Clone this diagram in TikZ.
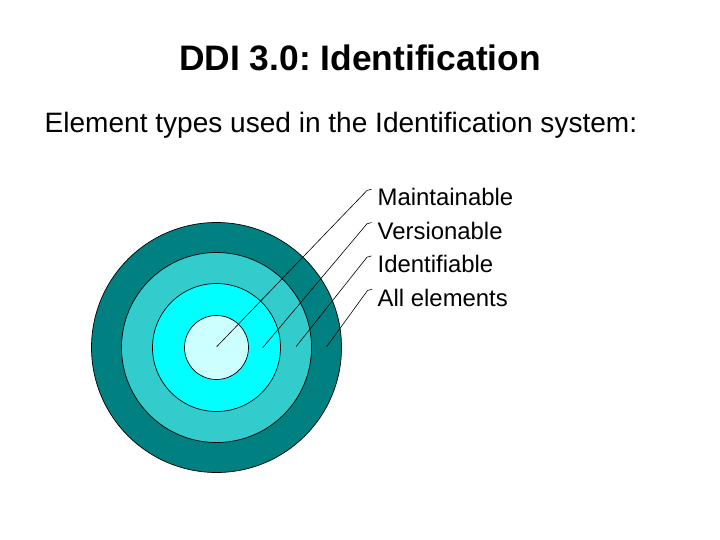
\documentclass[tikz,border=0pt]{standalone}
\usepackage{fontspec}
\usetikzlibrary{calc}
\setmainfont{Liberation Sans}
\frenchspacing
\definecolor{ringA}{HTML}{008080}
\definecolor{ringB}{HTML}{33CCCC}
\definecolor{ringC}{HTML}{00FFFF}
\definecolor{ringD}{HTML}{CCFFFF}
\begin{document}
\begin{tikzpicture}[x=1pt,y=-1pt,
  ring/.style={circle, draw=black, line width=0.7pt, inner sep=0pt},
  lbl/.style={anchor=base west, inner sep=0pt, font=\fontsize{23.9}{28}\selectfont},
  leader/.style={draw=black, line width=0.6pt}]
\useasboundingbox (0,0) rectangle (720,540);
\fill[white] (0,0) rectangle (720,540);
\node[anchor=base, inner sep=0pt, font=\bfseries\fontsize{35.4}{40}\selectfont] (title) at (360,71) {DDI 3.0: Identification};
\node[anchor=base west, inner sep=0pt, font=\fontsize{28.05}{34}\selectfont] (sub) at (44.5,133) {Element types used in the Identification system:};
\node[ring, fill=ringA, minimum size=250pt] (r1) at (216.5,347.5) {};
\node[ring, fill=ringB, minimum size=190pt] (r2) at (216.5,347.5) {};
\node[ring, fill=ringC, minimum size=128pt] (r3) at (216.5,347.5) {};
\node[ring, fill=ringD, minimum size=64pt] (r4) at (216.5,347.5) {};
\node[lbl] (l1) at (377.5,206) {Maintainable};
\node[lbl] (l2) at (377.5,239.3) {Versionable};
\node[lbl] (l3) at (377.5,272.7) {Identifiable};
\node[lbl] (l4) at (377.5,306) {All elements};
\coordinate (p1) at (216.7,346.7);
\coordinate (p2) at (262.7,347.7);
\coordinate (p3) at (296,346.7);
\coordinate (p4) at (326.7,346.7);
\coordinate (t1) at (367,190.5);
\coordinate (t2) at (367,223.8);
\coordinate (t3) at (367,257.2);
\coordinate (t4) at (367.5,290.5);
\foreach \i in {1,2,3,4}{
  \draw[leader] (p\i) -- (t\i) .. controls ($(t\i)+(1.5,-1.2)$) .. ($(t\i)+(4.5,-1.3)$);
}
\end{tikzpicture}
\end{document}
